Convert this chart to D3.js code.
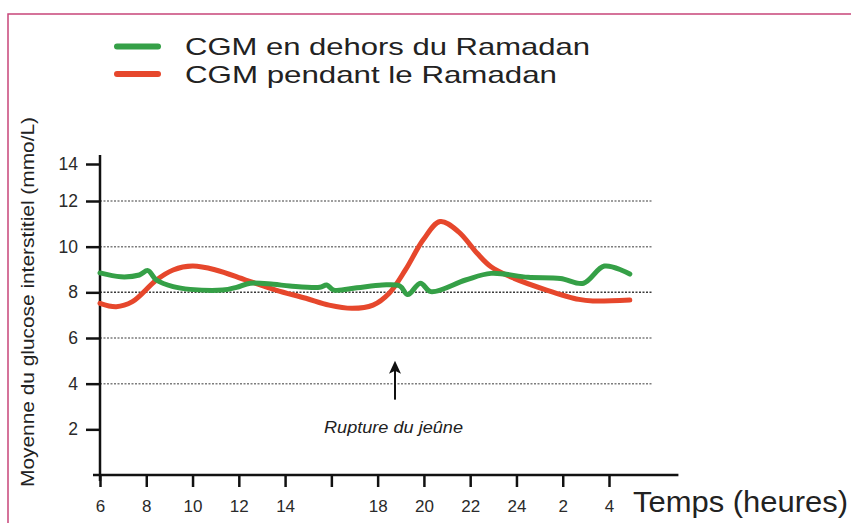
<!DOCTYPE html>
<html>
<head>
<meta charset="utf-8">
<script src="https://cdn.jsdelivr.net/npm/d3@7"></script>
<style>
  body { margin: 0; background: #fff; }
  text { font-family: "Liberation Sans", Arial, Helvetica, sans-serif; }
</style>
</head>
<body>
<script>
// hours run past midnight: 26 = 2h, 28 = 4h
const xTickHours = [6, 8, 10, 12, 14, 16, 18, 20, 22, 24, 26, 28];
const xTickLabels = ["6", "8", "10", "12", "14", "", "18", "20", "22", "24", "2", "4"];
const yTicks = [2, 4, 6, 8, 10, 12, 14];
const gridValues = [4, 6, 8, 10, 12];

// CGM en dehors du Ramadan (green)
const outsideHours = [6.0, 6.9, 7.7, 8.07, 8.44, 9.16, 9.9, 11.3, 11.9, 12.5, 13.5, 14.2, 15.5, 15.8, 16.1, 17.1, 18.2, 18.96, 19.3, 19.85, 20.3, 21.8, 22.9, 24.5, 25.9, 26.9, 27.8, 28.9];
const outsideValues = [8.85, 8.68, 8.76, 8.95, 8.54, 8.25, 8.13, 8.1, 8.22, 8.4, 8.35, 8.28, 8.22, 8.32, 8.1, 8.2, 8.32, 8.28, 7.9, 8.4, 8.03, 8.54, 8.83, 8.66, 8.61, 8.4, 9.15, 8.8];

// CGM pendant le Ramadan (red)
const ramadanHours = [6.0, 6.7, 7.4, 8.44, 9.16, 10.0, 11.0, 12.3, 13.6, 14.9, 15.9, 16.9, 17.8, 18.5, 19.2, 19.97, 20.7, 21.5, 22.3, 22.9, 23.9, 25.3, 26.7, 27.3, 28.9];
const ramadanValues = [7.52, 7.37, 7.59, 8.54, 8.98, 9.15, 8.98, 8.54, 8.1, 7.74, 7.44, 7.3, 7.44, 7.96, 8.98, 10.3, 11.1, 10.65, 9.71, 9.12, 8.61, 8.1, 7.69, 7.62, 7.66];

const legendLabels = ["CGM en dehors du Ramadan", "CGM pendant le Ramadan"];
const ruptureHour = 18.75;
const ruptureArrow = [3.3, 5.0];

const green = "#35a047";
const red = "#e6472c";

const width = 851, height = 523;

const svg = d3.select("body").append("svg")
  .attr("width", width)
  .attr("height", height);

// pink frame round the figure
svg.append("rect")
  .attr("x", 8).attr("y", 14)
  .attr("width", 900).attr("height", 600)
  .attr("fill", "#fff")
  .attr("stroke", "#c8467a")
  .attr("stroke-width", 1.5);

const x = d3.scaleLinear().domain([6, 28]).range([100, 609]);
// the drawn axis squeezes the top step (12 -> 14)
const y = d3.scaleLinear().domain([0, 12, 14]).range([475, 201, 164]);

// dotted grid
svg.append("g")
  .selectAll("line")
  .data(gridValues)
  .join("line")
  .attr("x1", x(6))
  .attr("x2", x(29.85))
  .attr("y1", d => y(d))
  .attr("y2", d => y(d))
  .attr("stroke", d => d === 8 ? "#3a3a3a" : "#7d7d7d")
  .attr("stroke-width", 1.5)
  .attr("stroke-dasharray", "2,1.5");

// y axis
const yAxis = svg.append("g")
  .attr("transform", `translate(${x(6)},0)`)
  .call(d3.axisLeft(y).tickValues(yTicks).tickSize(14).tickPadding(8).tickFormat(d3.format("d")));
yAxis.select(".domain").remove();
yAxis.selectAll(".tick line").attr("stroke", "#111").attr("stroke-width", 2.5);
yAxis.selectAll(".tick text")
  .attr("fill", "#2a2a2a")
  .style("font-size", "17.5px");

svg.append("line")
  .attr("x1", x(6)).attr("x2", x(6))
  .attr("y1", y(14) - 9).attr("y2", y(0) + 6)
  .attr("stroke", "#111").attr("stroke-width", 2.5);

// x axis
const xAxis = svg.append("g")
  .attr("transform", `translate(0,${y(0)})`)
  .call(d3.axisBottom(x).tickValues(xTickHours).tickSize(12).tickPadding(13)
    .tickFormat((d, i) => xTickLabels[i]));
xAxis.select(".domain").remove();
xAxis.selectAll(".tick line").attr("stroke", "#111").attr("stroke-width", 2.5);
xAxis.selectAll(".tick text")
  .attr("fill", "#2a2a2a")
  .style("font-size", "17px");

svg.append("line")
  .attr("x1", x(6) - 7).attr("x2", x(31))
  .attr("y1", y(0)).attr("y2", y(0))
  .attr("stroke", "#111").attr("stroke-width", 2.5);

// curves
const line = d3.line()
  .x(d => x(d[0]))
  .y(d => y(d[1]))
  .curve(d3.curveCatmullRom.alpha(0.5));

svg.append("path")
  .datum(d3.zip(ramadanHours, ramadanValues))
  .attr("d", line)
  .attr("fill", "none")
  .attr("stroke", red)
  .attr("stroke-width", 5)
  .attr("stroke-linecap", "round");

svg.append("path")
  .datum(d3.zip(outsideHours, outsideValues))
  .attr("d", line)
  .attr("fill", "none")
  .attr("stroke", green)
  .attr("stroke-width", 5)
  .attr("stroke-linecap", "round");

// legend
const legend = svg.append("g");
const legendColors = [green, red];
const legendRows = [46.5, 74];
const legendWidths = [405, 372];
legendLabels.forEach((label, i) => {
  legend.append("line")
    .attr("x1", 117).attr("x2", 158)
    .attr("y1", legendRows[i]).attr("y2", legendRows[i])
    .attr("stroke", legendColors[i])
    .attr("stroke-width", 6)
    .attr("stroke-linecap", "round");
  legend.append("text")
    .attr("x", 185)
    .attr("y", legendRows[i] + 8.5)
    .attr("textLength", legendWidths[i])
    .attr("lengthAdjust", "spacingAndGlyphs")
    .attr("fill", "#222")
    .style("font-size", "24px")
    .text(label);
});

// axis titles
svg.append("text")
  .attr("transform", "translate(33.5,302) rotate(-90)")
  .attr("text-anchor", "middle")
  .attr("textLength", 370)
  .attr("lengthAdjust", "spacingAndGlyphs")
  .attr("fill", "#222")
  .style("font-size", "17.5px")
  .text("Moyenne du glucose interstitiel (mmo/L)");

svg.append("text")
  .attr("x", 633)
  .attr("y", 512)
  .attr("textLength", 215)
  .attr("lengthAdjust", "spacingAndGlyphs")
  .attr("fill", "#222")
  .style("font-size", "30px")
  .text("Temps (heures)");

// Rupture du jeune annotation
const ax = x(ruptureHour);
svg.append("line")
  .attr("x1", ax).attr("x2", ax)
  .attr("y1", y(ruptureArrow[0])).attr("y2", y(ruptureArrow[1]) + 8)
  .attr("stroke", "#111").attr("stroke-width", 2);
svg.append("path")
  .attr("d", `M${ax},${y(ruptureArrow[1])} L${ax - 6},${y(ruptureArrow[1]) + 13} L${ax},${y(ruptureArrow[1]) + 10} L${ax + 6},${y(ruptureArrow[1]) + 13} Z`)
  .attr("fill", "#111");

svg.append("text")
  .attr("x", 324)
  .attr("y", 433)
  .attr("textLength", 139)
  .attr("lengthAdjust", "spacingAndGlyphs")
  .attr("fill", "#222")
  .style("font-size", "16px")
  .style("font-style", "italic")
  .text("Rupture du jeûne");
</script>
</body>
</html>
